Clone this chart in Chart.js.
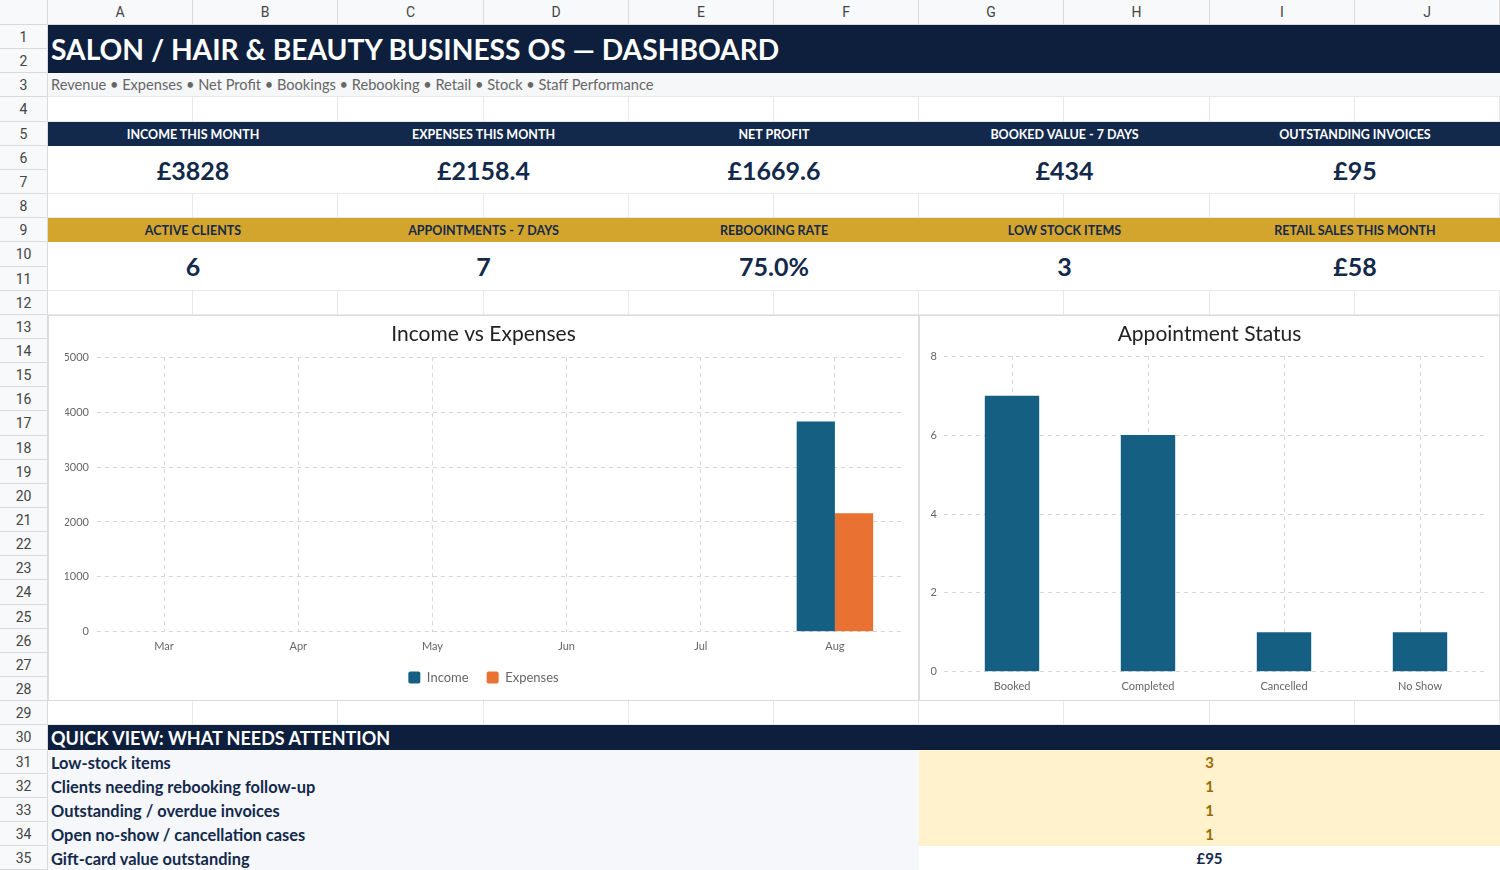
<!DOCTYPE html>
<html>
<head>
<meta charset="utf-8">
<script src="https://cdn.jsdelivr.net/npm/chart.js@4.4.1/dist/chart.umd.min.js"></script>
<style>
  body { margin: 0; width: 1500px; height: 870px; overflow: hidden; background: #fff; font-family: Lato, sans-serif; position: relative; }
  .c { position: absolute; box-sizing: border-box; display: flex; align-items: center; overflow: hidden; white-space: nowrap; }
  .panel { position: absolute; box-sizing: border-box; background: #fff; border: 1px solid #dcdcdc; }
</style>
</head>
<body>
<script>
// ---- data ----
var months = ['Mar', 'Apr', 'May', 'Jun', 'Jul', 'Aug'];
var income = [0, 0, 0, 0, 0, 3828];
var expenses = [0, 0, 0, 0, 0, 2158.4];

var statusLabels = ['Booked', 'Completed', 'Cancelled', 'No Show'];
var statusCounts = [7, 6, 1, 1];

var kpiTop = ['INCOME THIS MONTH', 'EXPENSES THIS MONTH', 'NET PROFIT', 'BOOKED VALUE - 7 DAYS', 'OUTSTANDING INVOICES'];
var kpiTopValues = ['£3828', '£2158.4', '£1669.6', '£434', '£95'];
var kpiBottom = ['ACTIVE CLIENTS', 'APPOINTMENTS - 7 DAYS', 'REBOOKING RATE', 'LOW STOCK ITEMS', 'RETAIL SALES THIS MONTH'];
var kpiBottomValues = ['6', '7', '75.0%', '3', '£58'];

var attentionItems = ['Low-stock items', 'Clients needing rebooking follow-up', 'Outstanding / overdue invoices', 'Open no-show / cancellation cases', 'Gift-card value outstanding'];
var attentionValues = ['3', '1', '1', '1', '£95'];

var colLetters = ['A', 'B', 'C', 'D', 'E', 'F', 'G', 'H', 'I', 'J'];

// ---- sheet layout ----
var cols = [48, 193, 338, 484, 629, 774, 919, 1064, 1210, 1355, 1500];
var HEAD = 25;
var RH = 24.15;
function rowTop(n) { return Math.round(HEAD + (n - 1) * RH); }

function cell(x1, y1, x2, y2, css, text) {
  var d = document.createElement('div');
  d.className = 'c';
  d.style.left = x1 + 'px';
  d.style.top = y1 + 'px';
  d.style.width = (x2 - x1) + 'px';
  d.style.height = (y2 - y1) + 'px';
  for (var k in css) { d.style[k] = css[k]; }
  if (text !== undefined) { d.textContent = text; }
  document.body.appendChild(d);
  return d;
}

var hdrFont = '14px Roboto, "Liberation Sans", sans-serif';

// column header + row numbers
cell(0, 0, 48, HEAD, { background: '#f8f9fa', borderRight: '1px solid #dadada', borderBottom: '1px solid #dadada' });
for (var i = 0; i < 10; i++) {
  cell(cols[i], 0, cols[i + 1], HEAD, { background: '#f8f9fa', borderRight: '1px solid #dadada', borderBottom: '1px solid #dadada',
    justifyContent: 'center', font: hdrFont, color: '#444' }, colLetters[i]);
}
for (var r = 1; r <= 35; r++) {
  cell(0, rowTop(r), 48, rowTop(r + 1), { background: '#f8f9fa', borderRight: '1px solid #dadada', borderBottom: '1px solid #dadada',
    justifyContent: 'center', font: hdrFont, color: '#444' }, String(r));
  for (var j = 0; j < 10; j++) {
    cell(cols[j], rowTop(r), cols[j + 1], rowTop(r + 1), { borderRight: '1px solid #e8e8e8', borderBottom: '1px solid #e8e8e8' });
  }
}

// title
cell(48, rowTop(1), 1500, rowTop(3), { background: '#0d1f3c', color: '#fff', font: 'bold 28.2px Lato', paddingLeft: '3px' },
  'SALON / HAIR & BEAUTY BUSINESS OS — DASHBOARD');
cell(48, rowTop(3), 1500, rowTop(4), { background: '#f6f7f9', color: '#666', font: '14.6px Lato', paddingLeft: '3px', borderBottom: '1px solid #e8e8e8' },
  'Revenue • Expenses • Net Profit • Bookings • Rebooking • Retail • Stock • Staff Performance');

// KPI blocks
function kpiRow(headRow, labels, values, headBg, headColor) {
  for (var i = 0; i < 5; i++) {
    var x1 = cols[i * 2], x2 = cols[i * 2 + 2];
    cell(x1, rowTop(headRow), x2, rowTop(headRow + 1), { background: headBg, color: headColor, font: 'bold 12.5px Lato', justifyContent: 'center' }, labels[i]);
    cell(x1, rowTop(headRow + 1), x2, rowTop(headRow + 3), { background: '#fff', color: '#13294b', font: 'bold 25px Lato', justifyContent: 'center',
      borderBottom: '1px solid #e8e8e8' }, values[i]);
  }
}
kpiRow(5, kpiTop, kpiTopValues, '#13294b', '#fff');
kpiRow(9, kpiBottom, kpiBottomValues, '#d4a52d', '#13294b');

// attention block
cell(48, rowTop(30), 1500, rowTop(31), { background: '#0d1f3c', color: '#fff', font: 'bold 18px Lato', paddingLeft: '3px' }, 'QUICK VIEW: WHAT NEEDS ATTENTION');
for (var a = 0; a < attentionItems.length; a++) {
  var rr = 31 + a;
  var last = a === attentionItems.length - 1;
  cell(48, rowTop(rr), 919, rowTop(rr + 1), { background: '#f5f7fa', color: '#13294b', font: 'bold 16.4px Lato', paddingLeft: '3px' }, attentionItems[a]);
  cell(919, rowTop(rr), 1500, rowTop(rr + 1), { background: last ? '#fff' : '#fff2cc', color: last ? '#13294b' : '#9c6a00',
    font: 'bold 15px Lato', justifyContent: 'center' }, attentionValues[a]);
}

// chart panels
function panel(x1, y1, x2, y2, id) {
  var p = document.createElement('div');
  p.className = 'panel';
  p.style.left = x1 + 'px';
  p.style.top = y1 + 'px';
  p.style.width = (x2 - x1) + 'px';
  p.style.height = (y2 - y1) + 'px';
  var cv = document.createElement('canvas');
  cv.id = id;
  cv.width = x2 - x1 - 2;
  cv.height = y2 - y1 - 2;
  p.appendChild(cv);
  document.body.appendChild(p);
  return cv;
}
var top13 = rowTop(13), top29 = rowTop(29);
var leftCanvas = panel(48, top13, 919, top29, 'incomeChart');
var rightCanvas = panel(919, top13, 1500, top29, 'statusChart');

Chart.defaults.font.family = 'Lato';
Chart.defaults.color = '#666';

function axisGrid() {
  return { color: '#d6d6d6', drawTicks: false, offset: false };
}
function plainNumber(v) { return String(v); }
function fixedWidth(w) {
  return function (scale) { scale.width = w; };
}

// wide gaps between legend items (labels.padding) without the extra vertical space it adds
var legendTrim = {
  id: 'legendTrim',
  beforeInit: function (chart) {
    var lg = chart.legend;
    if (!lg) { return; }
    var fit = lg.fit;
    var draw = lg.draw;
    lg.fit = function () {
      fit.call(this);
      this.height -= 16;
    };
    lg.draw = function () {
      var t = this.top;
      this.top = t - 8;
      draw.call(this);
      this.top = t;
    };
  }
};

new Chart(leftCanvas.getContext('2d'), {
  type: 'bar',
  data: {
    labels: months,
    datasets: [
      { label: 'Income', data: income, backgroundColor: '#155f82' },
      { label: 'Expenses', data: expenses, backgroundColor: '#e97132' }
    ]
  },
  plugins: [legendTrim],
  options: {
    responsive: false,
    animation: false,
    categoryPercentage: 0.57,
    barPercentage: 1.0,
    layout: { padding: { left: 16, right: 16, top: 2, bottom: 14 } },
    plugins: {
      title: { display: true, text: 'Income vs Expenses', color: '#222', font: { size: 21, weight: 'normal' }, padding: { top: 4, bottom: 10 } },
      legend: { position: 'bottom', labels: { boxWidth: 12, boxHeight: 12, useBorderRadius: true, borderRadius: 2, color: '#666', font: { size: 13 }, padding: 18 } },
      tooltip: { enabled: false }
    },
    scales: {
      x: { grid: axisGrid(), border: { display: false, dash: [4, 4] }, ticks: { padding: 8, font: { size: 11 } } },
      y: { min: 0, max: 5000, afterFit: fixedWidth(32), ticks: { stepSize: 1000, padding: 8, font: { size: 11 }, callback: plainNumber },
        grid: axisGrid(), border: { display: false, dash: [4, 4] } }
    }
  }
});

new Chart(rightCanvas.getContext('2d'), {
  type: 'bar',
  data: {
    labels: statusLabels,
    datasets: [{ label: 'Appointments', data: statusCounts, backgroundColor: '#155f82' }]
  },
  options: {
    responsive: false,
    animation: false,
    categoryPercentage: 0.4,
    barPercentage: 1.0,
    layout: { padding: { left: 11, right: 11, top: 2, bottom: -1 } },
    plugins: {
      title: { display: true, text: 'Appointment Status', color: '#222', font: { size: 21, weight: 'normal' }, padding: { top: 4, bottom: 9 } },
      legend: { display: false },
      tooltip: { enabled: false }
    },
    scales: {
      x: { grid: axisGrid(), border: { display: false, dash: [4, 4] }, ticks: { padding: 8, font: { size: 11 } } },
      y: { min: 0, max: 8, afterFit: fixedWidth(13), ticks: { stepSize: 2, padding: 7, font: { size: 11 }, callback: plainNumber },
        grid: axisGrid(), border: { display: false, dash: [4, 4] } }
    }
  }
});
</script>
</body>
</html>
